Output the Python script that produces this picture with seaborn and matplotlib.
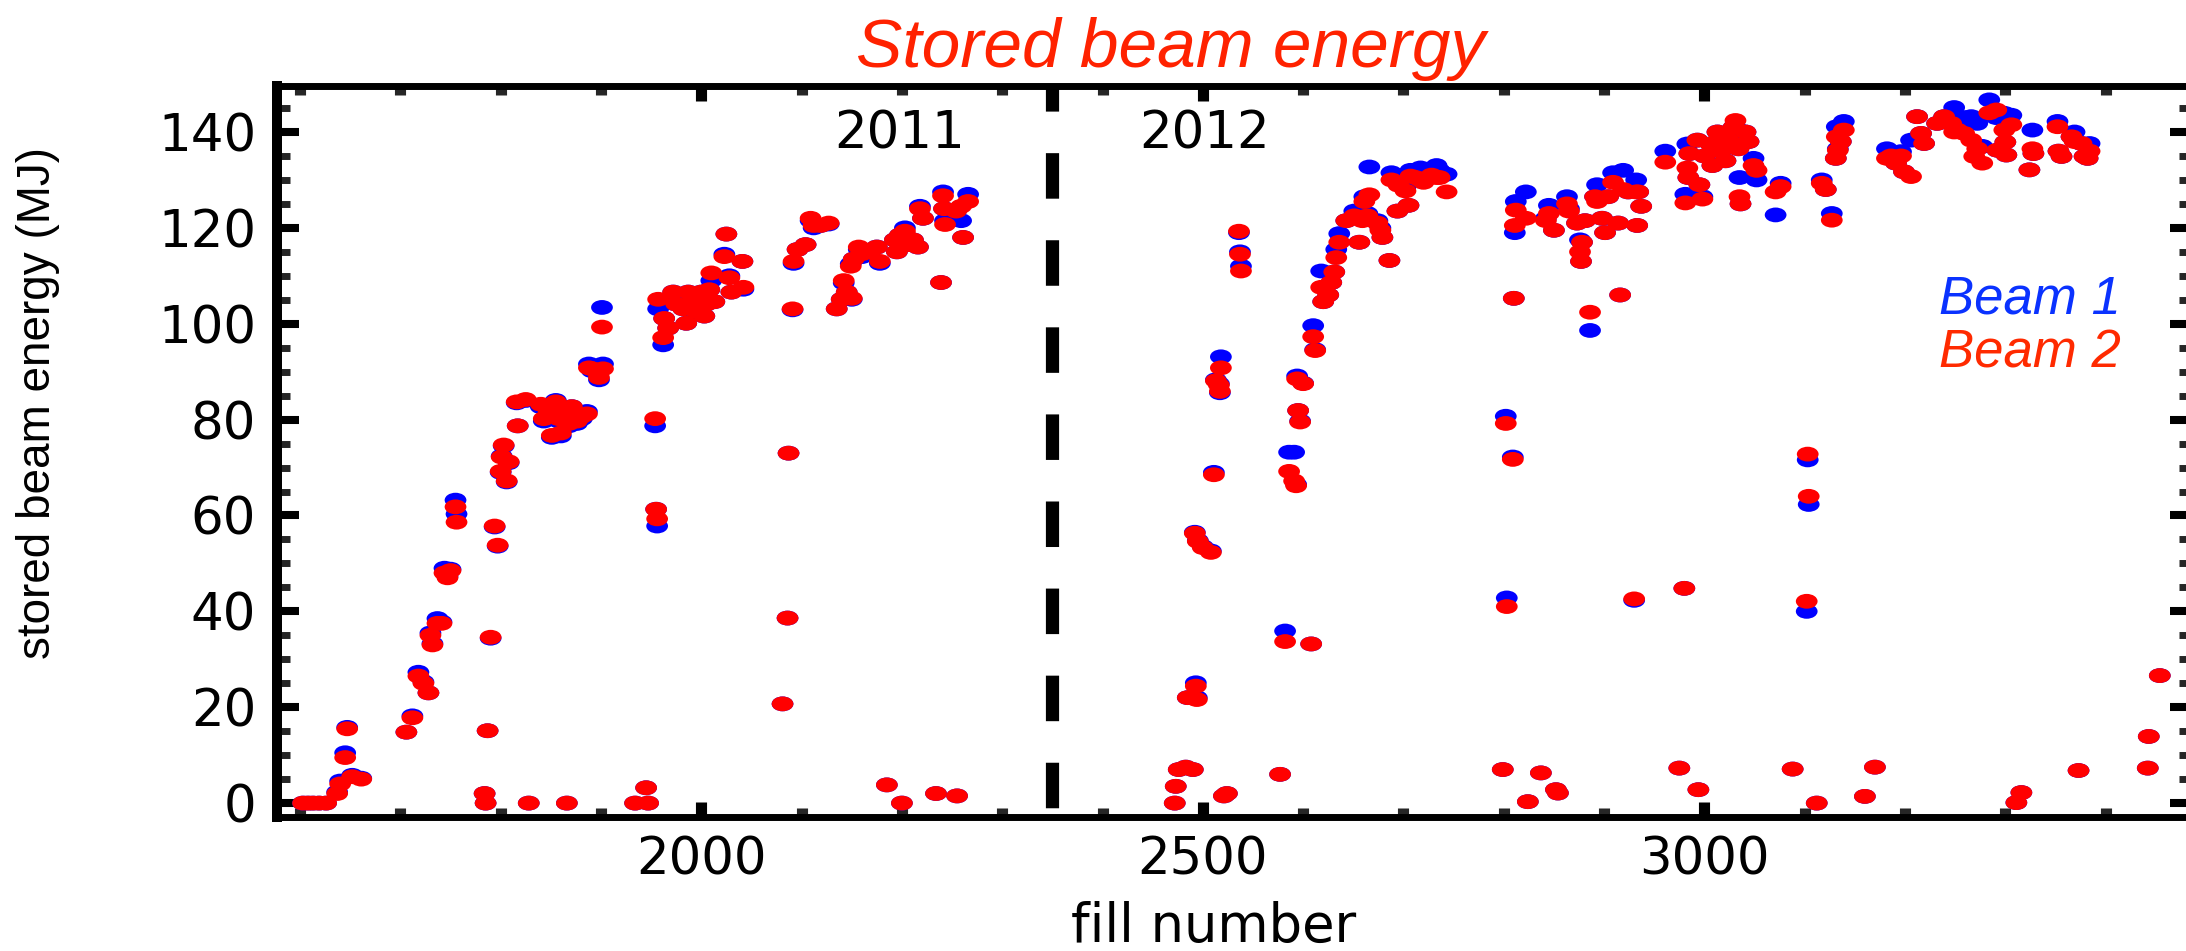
import numpy as np
import pandas as pd
import matplotlib
matplotlib.use("Agg")
import matplotlib.pyplot as plt
import seaborn as sns
from matplotlib.path import Path
from matplotlib.transforms import Affine2D
from matplotlib.ticker import MultipleLocator
from matplotlib import font_manager as fm

# ---------------- data ----------------
fill_2011 = [1603, 1608, 1613, 1619, 1626, 1637, 1640, 1645, 1647, 1652, 1661, 1706, 1712, 1718,
             1723, 1728, 1730, 1732, 1737, 1741, 1744, 1747, 1750, 1755, 1756, 1784, 1785, 1787,
             1790, 1794, 1797, 1800, 1801, 1803, 1806, 1808, 1816, 1817, 1825, 1828, 1840, 1843,
             1848, 1851, 1855, 1858, 1860, 1865, 1866, 1868, 1871, 1876, 1881, 1886, 1888, 1891,
             1898, 1901, 1902, 1934, 1945, 1947, 1954, 1955, 1956, 1957, 1962, 1963, 1967, 1972,
             1975, 1982, 1985, 1987, 1992, 1995, 2000, 2003, 2005, 2008, 2010, 2013, 2023, 2025,
             2028, 2030, 2041, 2042, 2081, 2086, 2087, 2091, 2092, 2096, 2104, 2109, 2112, 2119,
             2127, 2135, 2140, 2142, 2145, 2149, 2150, 2152, 2157, 2160, 2168, 2175, 2178, 2185,
             2193, 2195, 2198, 2200, 2203, 2206, 2211, 2216, 2218, 2221, 2234, 2239, 2241, 2242,
             2243, 2254, 2255, 2259, 2261, 2266]
beam1_2011 = [0, 0, 0, 0, 0, 2.3, 4.6, 10.5, 15.8, 5.8, 5.2, 14.8, 18.2, 27.3,
              25.3, 23.0, 35.5, 33.3, 38.5, 37.8, 49.0, 47.3, 48.8, 63.2, 60.3, 2.0, 0, 15.1,
              34.4, 57.6, 53.6, 69.0, 72.4, 74.5, 67.0, 71.0, 83.5, 78.7, 84.0, 0, 82.7, 79.7,
              82.3, 76.3, 84.0, 79.7, 76.6, 81.7, 0, 78.7, 82.7, 79.2, 80.2, 81.7, 91.6, 90.2,
              88.3, 103.4, 91.6, 0, 3.2, 0, 78.7, 61.3, 57.8, 103.1, 95.6, 101.1, 99.1, 106.6,
              104.1, 103.1, 100.1, 106.6, 105.1, 102.6, 106.6, 101.6, 104.1, 107.1, 109.0, 104.6, 114.5, 118.7,
              110.0, 106.6, 113.0, 107.2, 20.7, 38.6, 73.0, 102.9, 112.6, 115.5, 116.5, 121.5, 120.0, 120.5,
              120.8, 103.1, 105.1, 108.5, 106.6, 112.5, 105.1, 113.5, 115.5, 114.0, 115.0, 116.0, 112.6, 3.8,
              117.5, 115.0, 118.5, 0, 120.0, 116.5, 117.5, 116.0, 124.5, 122.0, 2.0, 108.6, 127.5, 124.0,
              121.5, 123.5, 1.5, 121.5, 118.0, 127.0]
beam2_2011 = [0, 0, 0, 0, 0, 2.0, 4.0, 9.5, 15.5, 5.5, 5.0, 14.8, 17.8, 26.5,
              25.0, 23.0, 35.0, 33.0, 37.5, 37.5, 48.0, 47.0, 48.5, 61.8, 58.6, 2.0, 0, 15.1,
              34.6, 57.8, 53.8, 69.2, 72.2, 74.7, 67.2, 71.2, 83.7, 78.7, 84.2, 0, 83.2, 80.2,
              81.7, 76.7, 83.7, 80.2, 77.2, 81.7, 0, 79.2, 82.7, 79.7, 80.7, 81.2, 90.8, 90.6,
              88.8, 99.3, 90.6, 0, 3.2, 0, 80.2, 61.3, 59.3, 105.1, 97.1, 101.1, 99.1, 106.6,
              104.1, 103.1, 100.1, 106.6, 105.1, 102.6, 106.6, 101.6, 104.1, 107.1, 110.6, 104.6, 114.0, 118.7,
              109.6, 106.6, 113.0, 107.6, 20.7, 38.6, 73.0, 103.1, 113.0, 115.5, 116.5, 122.0, 120.5, 120.5,
              121.0, 103.1, 105.1, 109.0, 106.6, 112.0, 105.3, 113.5, 116.0, 114.6, 115.0, 116.0, 113.0, 3.8,
              117.5, 115.0, 118.5, 0, 119.3, 116.5, 117.5, 116.0, 124.0, 122.0, 2.0, 108.6, 126.7, 124.0,
              120.7, 123.5, 1.5, 124.5, 118.0, 125.5]

fill_2012 = [2472, 2473, 2476, 2483, 2490, 2485, 2493, 2494, 2492, 2495, 2500, 2508, 2511, 2513,
             2516, 2517, 2518, 2521, 2524, 2536, 2537, 2538, 2577, 2582, 2608, 2586, 2591, 2593,
             2595, 2597, 2594, 2600, 2610, 2612, 2618, 2620, 2625, 2628, 2631, 2633, 2636, 2643,
             2651, 2656, 2659, 2661, 2664, 2666, 2674, 2677, 2679, 2686, 2688, 2694, 2695, 2702,
             2705, 2707, 2712, 2717, 2720, 2728, 2733, 2736, 2743, 2799, 2802, 2803, 2809, 2810,
             2811, 2812, 2822, 2824, 2837, 2842, 2845, 2850, 2852, 2854, 2863, 2865, 2873, 2876,
             2877, 2878, 2881, 2886, 2891, 2893, 2898, 2901, 2904, 2909, 2914, 2916, 2919, 2924,
             2930, 2932, 2934, 2937, 2933, 2961, 2975, 2980, 2981, 2983, 2984, 2985, 2993, 2994,
             2995, 2998, 3000, 3006, 3008, 3013, 3016, 3021, 3024, 3029, 3031, 3034, 3035, 3036,
             3041, 3044, 3049, 3052, 3071, 3076, 3088, 3103, 3104, 3102, 3112, 3117, 3121, 3127,
             3132, 3136, 3139, 3131, 3133, 3160, 3170, 3182, 3186, 3191, 3196, 3199, 3206, 3212,
             3216, 3219, 3232, 3239, 3246, 3249, 3252, 3259, 3266, 3269, 3272, 3277, 3284, 3291,
             3299, 3300, 3292, 3301, 3306, 3311, 3316, 3324, 3327, 3328, 3352, 3353, 3356, 3366,
             3369, 3373, 3376, 3379, 3382, 3384, 3442, 3443, 3454]
beam1_2012 = [0, 3.5, 7.0, 7.5, 7.0, 22.0, 25.1, 22.0, 56.5, 54.8, 53.5, 52.6, 69.0, 88.3,
              87.5, 85.6, 93.1, 1.5, 2.0, 119.0, 115.0, 112.0, 6.0, 35.9, 33.2, 73.2, 73.2, 66.5,
              81.9, 79.7, 89.1, 87.6, 99.6, 94.6, 111.0, 104.6, 106.0, 108.6, 110.8, 115.5, 118.8, 121.5,
              123.5, 117.0, 122.0, 126.5, 123.0, 132.7, 121.5, 120.0, 118.0, 113.2, 131.5, 123.5, 129.8, 128.5,
              124.7, 132.0, 131.5, 132.5, 131.0, 132.0, 133.0, 132.0, 131.2, 7.0, 80.7, 42.8, 72.2, 105.3,
              119.0, 125.5, 127.5, 0.3, 6.3, 122.0, 124.7, 119.5, 2.8, 2.1, 126.5, 124.0, 121.0, 117.5,
              113.0, 117.0, 121.5, 98.6, 126.5, 129.0, 122.0, 119.0, 126.5, 131.5, 121.0, 106.0, 132.0, 127.5,
              42.3, 130.0, 127.5, 124.5, 120.5, 136.0, 7.3, 44.8, 127.0, 137.5, 130.5, 135.5, 138.3, 2.8,
              129.0, 126.5, 135.0, 137.5, 133.0, 140.0, 136.0, 134.0, 138.4, 141.0, 141.0, 136.5, 130.5, 125.0,
              140.0, 138.0, 134.5, 130.0, 122.7, 129.3, 7.1, 71.6, 62.3, 40.0, 0, 130.0, 128.0, 123.0,
              141.1, 138.0, 142.2, 134.5, 136.5, 1.4, 7.5, 136.5, 135.0, 133.5, 135.9, 131.7, 138.3, 143.2,
              139.7, 137.6, 141.8, 143.2, 141.8, 145.1, 140.4, 143.0, 143.2, 142.0, 141.8, 137.0, 146.7, 143.0,
              143.9, 137.9, 136.2, 135.2, 143.5, 0.1, 2.2, 132.1, 140.4, 135.5, 142.2, 136.0, 134.9, 139.0,
              140.0, 6.8, 137.6, 134.9, 134.5, 137.6, 7.3, 13.9, 26.6]
beam2_2012 = [0, 3.5, 7.0, 7.5, 7.0, 22.0, 24.4, 21.6, 56.3, 54.6, 53.3, 52.3, 68.5, 88.1,
              87.2, 85.9, 90.8, 1.5, 2.0, 119.3, 114.5, 111.0, 6.0, 33.7, 33.2, 69.2, 67.2, 66.2,
              81.9, 79.5, 88.5, 87.5, 97.3, 94.4, 107.6, 104.6, 106.0, 108.6, 110.8, 113.8, 117.0, 121.5,
              122.5, 117.0, 121.5, 125.5, 122.5, 126.9, 121.0, 119.5, 118.0, 113.2, 130.0, 123.5, 128.9, 127.7,
              124.7, 130.8, 130.5, 130.0, 129.5, 131.0, 130.5, 130.5, 127.5, 7.0, 79.2, 41.0, 71.7, 105.3,
              120.5, 123.7, 122.0, 0.3, 6.3, 121.5, 123.0, 119.5, 2.8, 2.1, 125.0, 123.5, 121.0, 115.0,
              113.0, 117.0, 121.5, 102.4, 126.5, 125.5, 122.0, 119.0, 126.5, 129.5, 121.0, 106.0, 128.0, 127.5,
              42.6, 127.5, 127.5, 124.5, 120.5, 133.7, 7.3, 44.8, 125.2, 132.5, 130.5, 135.5, 138.3, 2.8,
              129.0, 126.0, 135.0, 137.5, 133.0, 140.0, 136.0, 134.0, 138.4, 141.0, 142.4, 136.5, 126.5, 125.0,
              140.0, 138.0, 133.0, 132.0, 127.5, 128.6, 7.1, 72.8, 64.0, 42.1, 0, 129.3, 128.0, 121.6,
              139.0, 138.0, 140.4, 134.5, 136.2, 1.4, 7.5, 134.5, 135.0, 133.5, 135.0, 131.7, 130.7, 143.2,
              139.7, 137.6, 141.8, 143.2, 141.8, 140.0, 140.4, 139.7, 138.3, 134.9, 136.5, 133.5, 144.0, 144.6,
              140.4, 137.9, 136.2, 135.2, 141.5, 0.1, 2.2, 132.1, 136.5, 135.5, 141.1, 136.0, 134.9, 139.0,
              138.0, 6.8, 137.6, 134.9, 134.5, 136.0, 7.3, 13.9, 26.6]

beam_names = ["Beam 1", "Beam 2"]
beam_colors = ["#0000ff", "#ff0000"]
label_colors = ["#0a32ff", "#ff2a00"]
year_labels = ["2011", "2012"]
year_boundary = 2350
x_major, x_minor = 500, 100
y_major, y_minor = 20, 5

# ---------------- build long-form table (Beam 1 first, Beam 2 on top) ----------------
fills = fill_2011 + fill_2012
df = pd.concat([
    pd.DataFrame({"fill": fills, "energy": beam1_2011 + beam1_2012, "beam": beam_names[0]}),
    pd.DataFrame({"fill": fills, "energy": beam2_2011 + beam2_2012, "beam": beam_names[1]}),
], ignore_index=True)

sns.set_theme(style="white")
plt.rcParams["font.family"] = ["DejaVu Sans"]
plt.rcParams["text.color"] = "black"

avail = {f.name for f in fm.fontManager.ttflist}
if "Liberation Sans Narrow" in avail:
    ylab_family, ylab_size = ["Liberation Sans Narrow", "DejaVu Sans"], 39
else:
    ylab_family, ylab_size = ["Liberation Sans", "DejaVu Sans"], 33

fig = plt.figure(figsize=(21.86, 9.51), dpi=100)
fig.patch.set_facecolor("white")
ax = fig.add_axes([0.1267, 0.1409, 0.8760, 0.7687])
ax.set_facecolor("white")

ellipse = Path.unit_circle().transformed(Affine2D().scale(1.0, 0.68))
sns.scatterplot(data=df, x="fill", y="energy", hue="beam",
                palette=dict(zip(beam_names, beam_colors)),
                marker=ellipse, s=245, linewidth=0, edgecolor="none",
                legend=False, ax=ax, zorder=3)

# year separator
ax.axvline(year_boundary, color="black", lw=9.5,
           linestyle=(5.9, (3.45, 3.15)), zorder=2)

ax.set_xlim(1577, 3486)
ax.set_ylim(-2.9, 149.6)

ax.xaxis.set_major_locator(MultipleLocator(x_major))
ax.xaxis.set_minor_locator(MultipleLocator(x_minor))
ax.yaxis.set_major_locator(MultipleLocator(y_major))
ax.yaxis.set_minor_locator(MultipleLocator(y_minor))

for side, sp in ax.spines.items():
    sp.set_visible(True)
    sp.set_color("black")
    sp.set_linewidth(7.2 if side == "left" else 5.0)

ax.tick_params(axis="x", which="major", direction="in", length=11, width=8,
               top=True, bottom=True, labelsize=37, pad=13, colors="black")
ax.tick_params(axis="x", which="minor", direction="in", length=6.5, width=8,
               top=True, bottom=True)
ax.tick_params(axis="y", which="major", direction="in", length=16, width=5.8,
               left=True, right=True, labelsize=37, pad=15, colors="black")
ax.tick_params(axis="y", which="minor", direction="in", length=9.5, width=5,
               left=True, right=True)

ax.set_xlabel("fill number", fontsize=38, color="black")
ax.xaxis.label.set_va("baseline")
ax.xaxis.set_label_coords(0.489, -0.171)

ax.set_ylabel("stored beam energy (MJ)", fontsize=ylab_size, color="black",
              family=ylab_family)
ax.yaxis.label.set_va("center")
ax.yaxis.set_label_coords(-0.1248, 0.566)

ax.set_title("Stored beam energy", fontsize=50, color="#ff2200", style="italic",
             family=["Liberation Sans", "DejaVu Sans"], x=0.4666, y=1.026, pad=0)

ax.text(2198, 136.5, year_labels[0], fontsize=37, ha="center", va="baseline", color="black")
ax.text(2502, 136.5, year_labels[1], fontsize=37, ha="center", va="baseline", color="black")

ax.text(3234, 102.2, beam_names[0], fontsize=38, style="italic", color=label_colors[0],
        family=["Liberation Sans", "DejaVu Sans"], ha="left", va="baseline")
ax.text(3234, 90.8, beam_names[1], fontsize=38, style="italic", color=label_colors[1],
        family=["Liberation Sans", "DejaVu Sans"], ha="left", va="baseline")

fig.savefig("out.png", dpi=100, facecolor="white")
